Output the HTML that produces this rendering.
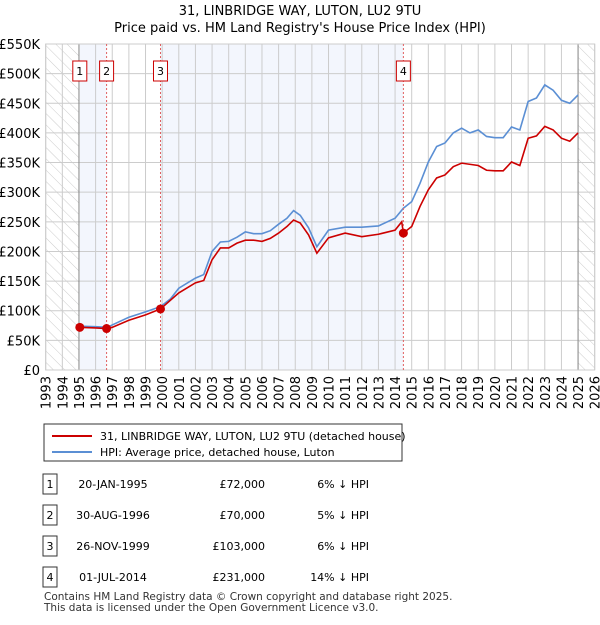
<!DOCTYPE html>
<html><head><meta charset="utf-8"><style>
body{margin:0;background:#fff;font-family:"Liberation Sans","DejaVu Sans",sans-serif;}
svg text{font-family:"DejaVu Sans","Liberation Sans",sans-serif;}
</style></head><body>
<svg id="chart" width="600" height="620" xmlns="http://www.w3.org/2000/svg">
<defs><pattern id="hatch" width="8" height="8" patternUnits="userSpaceOnUse" patternTransform="rotate(-45)"><line x1="0" y1="0" x2="0" y2="8" stroke="#ccc" stroke-width="1"/></pattern></defs>
<text x="300" y="15" text-anchor="middle" font-size="13">31, LINBRIDGE WAY, LUTON, LU2 9TU</text>
<text x="300" y="32" text-anchor="middle" font-size="13">Price paid vs. HM Land Registry's House Price Index (HPI)</text>
<g id="bg"></g><g id="grid"></g><g id="lines"></g><g id="marks"></g><g id="axes"></g>
<g>
<rect x="44" y="424" width="358" height="37" fill="#fff" stroke="#333"/>
<line x1="52" y1="436" x2="92" y2="436" stroke="#cc0000" stroke-width="2"/>
<text x="100" y="440" font-size="11">31, LINBRIDGE WAY, LUTON, LU2 9TU (detached house)</text>
<line x1="52" y1="452" x2="92" y2="452" stroke="#5b8fd4" stroke-width="2"/>
<text x="100" y="456" font-size="11">HPI: Average price, detached house, Luton</text>
</g>
<g id="table" font-size="11"></g>
<text x="44" y="600" font-size="10.5" fill="#333">Contains HM Land Registry data © Crown copyright and database right 2025.</text>
<text x="44" y="611" font-size="10.5" fill="#333">This data is licensed under the Open Government Licence v3.0.</text>
</svg>
<script>
const hpiYears=[1995,1996,1996.7,1997,1998,1999,1999.9,2000.5,2001,2002,2002.5,2003,2003.5,2004,2004.5,2005,2005.5,2006,2006.5,2007,2007.5,2007.9,2008.3,2008.8,2009.3,2010,2011,2012,2013,2014,2014.5,2015,2015.5,2016,2016.5,2017,2017.5,2018,2018.5,2019,2019.5,2020,2020.5,2021,2021.5,2022,2022.5,2023,2023.5,2024,2024.5,2025];
const hpiValues=[74,73,72,76,89,98,107,120,138,155,161,200,216,217,224,233,230,230,235,246,256,269,261,240,208,236,241,241,243,256,273,284,315,351,377,383,400,408,400,405,394,392,392,410,405,453,459,481,472,455,450,464];
const ppYears=[1995,1996,1996.7,1997,1998,1999,1999.9,2001,2002,2002.5,2003,2003.5,2004,2004.5,2005,2005.5,2006,2006.5,2007,2007.5,2007.9,2008.3,2008.8,2009.3,2010,2011,2012,2013,2014,2014.4,2014.5,2015,2015.5,2016,2016.5,2017,2017.5,2018,2019,2019.5,2020,2020.5,2021,2021.5,2022,2022.5,2023,2023.5,2024,2024.5,2025];
const ppValues=[72,71,70,72,84,93,103,130,147,151,186,206,206,214,219,219,217,222,231,242,253,248,228,197,223,231,225,229,236,250,231,242,276,304,324,329,343,349,345,337,336,336,351,345,391,395,411,405,391,386,400];
const saleLabels=["1","2","3","4"];
const saleYears=[1995.05,1996.66,1999.9,2014.5];
const saleValues=[72,70,103,231];
const saleDates=["20-JAN-1995","30-AUG-1996","26-NOV-1999","01-JUL-2014"];
const salePrices=["£72,000","£70,000","£103,000","£231,000"];
const salePcts=["6% ↓ HPI","5% ↓ HPI","6% ↓ HPI","14% ↓ HPI"];
const yTicks=[0,50,100,150,200,250,300,350,400,450,500,550];
const yTickLabels=["£0","£50K","£100K","£150K","£200K","£250K","£300K","£350K","£400K","£450K","£500K","£550K"];
const xTicks=[1993,1994,1995,1996,1997,1998,1999,2000,2001,2002,2003,2004,2005,2006,2007,2008,2009,2010,2011,2012,2013,2014,2015,2016,2017,2018,2019,2020,2021,2022,2023,2024,2025,2026];

const NS="http://www.w3.org/2000/svg";
const L=45.7,R=594.7,T=44,B=370;
const xs=y=>L+(y-1993)/33*(R-L);
const ys=v=>B-v/550*(B-T);
function mk(tag,attrs,parent){const e=document.createElementNS(NS,tag);for(const k in attrs)e.setAttribute(k,attrs[k]);document.getElementById(parent).appendChild(e);return e;}

let r;
r=mk('rect',{x:L,y:T,width:xs(1995)-L,height:B-T,fill:'url(#hatch)'},'bg');

r=mk('rect',{x:xs(2025),y:T,width:R-xs(2025),height:B-T,fill:'url(#hatch)'},'bg');

r=mk('rect',{x:xs(saleYears[0]),y:T,width:xs(saleYears[1])-xs(saleYears[0]),height:B-T,fill:'#f3f6fd'},'bg');

r=mk('rect',{x:xs(saleYears[2]),y:T,width:xs(saleYears[3])-xs(saleYears[2]),height:B-T,fill:'#f3f6fd'},'bg');


yTicks.forEach((v,i)=>{
 const g=mk('line',{x1:L,x2:R,y1:ys(v),y2:ys(v),stroke:'#ccc'},'grid');
 
 const t=mk('text',{x:40,y:ys(v)+5,'text-anchor':'end','font-size':'13'},'axes');
 t.textContent=yTickLabels[i];
 
});
xTicks.forEach(y=>{
 const g=mk('line',{x1:xs(y),x2:xs(y),y1:T,y2:B,stroke:'#ccc'},'grid');
 
 const x=xs(y)+5,yy=B+6;
 const t=mk('text',{x:x,y:yy,'text-anchor':'end','font-size':'13',transform:`rotate(-90 ${x} ${yy})`},'axes');
 t.textContent=y;
 
});
r=mk('line',{x1:xs(1995),x2:xs(1995),y1:T,y2:B,stroke:'#888'},'grid');

r=mk('line',{x1:xs(2025),x2:xs(2025),y1:T,y2:B,stroke:'#888'},'grid');

r=mk('rect',{x:L,y:T,width:R-L,height:B-T,fill:'none',stroke:'#ccc'},'grid');


let p=mk('polyline',{points:hpiYears.map((y,i)=>xs(y)+','+ys(hpiValues[i])).join(' '),fill:'none',stroke:'#5b8fd4','stroke-width':'1.6'},'lines');

p=mk('polyline',{points:ppYears.map((y,i)=>xs(y)+','+ys(ppValues[i])).join(' '),fill:'none',stroke:'#cc0000','stroke-width':'1.6'},'lines');


saleYears.forEach((y,i)=>{
 const x=xs(y);
 if(i>0){const d=mk('line',{x1:x,x2:x,y1:T,y2:B,stroke:'#e06060','stroke-dasharray':'2,2'},'marks');
 }
 const c=mk('circle',{cx:x,cy:ys(saleValues[i]),r:4.5,fill:'#cc0000'},'marks');
 
 const b=mk('rect',{x:x-7,y:61,width:14,height:20,fill:'#fff',stroke:'#cc0000'},'marks');
 
 const t=mk('text',{x:x,y:75,'text-anchor':'middle','font-size':'11'},'marks');
 t.textContent=saleLabels[i];
 
});

const rowY=[484,515,546,577];
saleLabels.forEach((l,i)=>{
 const y=rowY[i];
 const b=mk('rect',{x:43,y:y-10,width:14,height:20,fill:'#fff',stroke:'#333'},'table');
 
 let t=mk('text',{x:50,y:y+4,'text-anchor':'middle'},'table');t.textContent=l;
 
 t=mk('text',{x:113,y:y+4,'text-anchor':'middle'},'table');t.textContent=saleDates[i];
 
 t=mk('text',{x:265,y:y+4,'text-anchor':'end'},'table');t.textContent=salePrices[i];
 
 t=mk('text',{x:369,y:y+4,'text-anchor':'end'},'table');t.textContent=salePcts[i];
 
});
</script>
</body></html>
